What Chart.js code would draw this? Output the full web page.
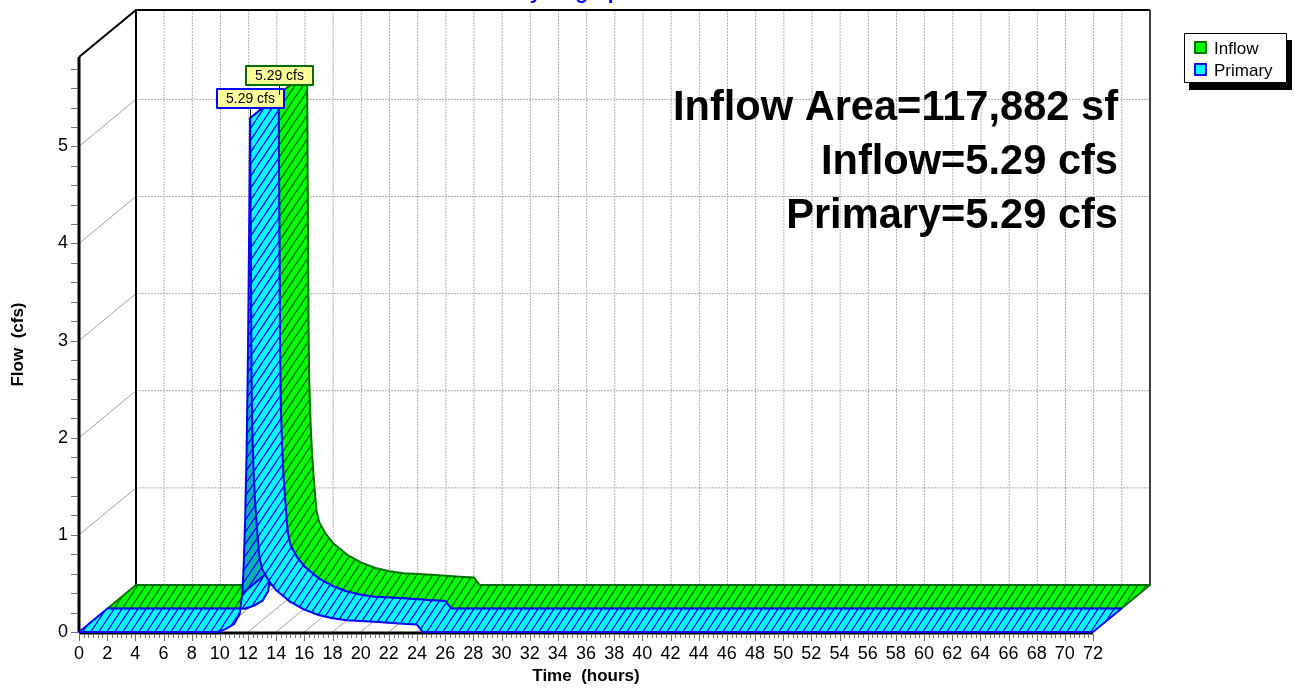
<!DOCTYPE html>
<html>
<head>
<meta charset="utf-8">
<script src="https://cdn.jsdelivr.net/npm/chart.js@4.4.0/dist/chart.umd.min.js"></script>
<style>
  html, body { margin: 0; padding: 0; background: #fff; overflow: hidden; }
  canvas { display: block; }
</style>
</head>
<body>
<canvas id="myChart" width="1294" height="688"></canvas>
<script>
// hydrograph values (hours / cfs)
const timeHours = [0, 9.8, 10.4, 11.0, 11.4, 11.6, 11.7, 11.8, 11.9, 12.0, 12.1, 12.15, 12.2, 12.25, 12.3, 12.4, 12.5, 12.65, 12.8, 13.0,
    13.5, 14.0, 14.5, 15.0, 16.0, 17.0, 18.0, 19.0, 20.0, 21.0, 22.0, 23.0, 24.0, 24.4, 72]
const inflowCfs = [0, 0, 0.03, 0.08, 0.18, 0.40, 0.70, 1.18, 1.85, 2.90, 4.40, 5.29, 4.00, 2.70, 2.10, 1.65, 1.35, 1.05, 0.78, 0.65,
    0.52, 0.43, 0.37, 0.31, 0.23, 0.175, 0.142, 0.122, 0.113, 0.105, 0.094, 0.085, 0.076, 0, 0]
const primaryCfs = [0, 0, 0.03, 0.08, 0.18, 0.40, 0.70, 1.18, 1.85, 2.90, 4.40, 5.29, 4.00, 2.70, 2.10, 1.65, 1.35, 1.05, 0.78, 0.65,
    0.52, 0.43, 0.37, 0.31, 0.23, 0.175, 0.142, 0.122, 0.113, 0.105, 0.094, 0.085, 0.076, 0, 0]

const timeTicks = [0, 2, 4, 6, 8, 10, 12, 14, 16, 18, 20, 22, 24, 26, 28, 30, 32, 34, 36, 38, 40, 42, 44, 46, 48, 50,
    52, 54, 56, 58, 60, 62, 64, 66, 68, 70, 72]
const flowTicks = [0, 1, 2, 3, 4, 5]
const inflowArea = '117,882 sf'

const FONT = '"Liberation Sans", Arial, sans-serif'
const DEPTH_X = 57
const DEPTH_Y = -47

const makeHatch = (ctx, color) => {
    const c = document.createElement('canvas')
    c.width = 16
    c.height = 24
    const g = c.getContext('2d')
    g.strokeStyle = color
    g.lineWidth = 1.3
    for (let x = -16; x <= 16; x += 8) {
        g.beginPath()
        g.moveTo(x, 24)
        g.lineTo(x + 16, 0)
        g.stroke()
    }
    return ctx.createPattern(c, 'repeat')
}

const line = (ctx, x1, y1, x2, y2) => {
    ctx.beginPath()
    ctx.moveTo(x1, y1)
    ctx.lineTo(x2, y2)
    ctx.stroke()
}

// one series drawn as a ribbon running from offset (ox, oy) back by half the depth;
// steep rising stretches show their underside in a darker shade
const drawRibbon = (ctx, pts, ox, oy, look) => {
    const bx = DEPTH_X / 2, by = DEPTH_Y / 2
    const front = pts.map(p => [p[0] + ox, p[1] + oy])
    const back = front.map(p => [p[0] + bx, p[1] + by])
    const runs = []
    for (let i = 0; i < front.length - 1; i++) {
        const dx = front[i + 1][0] - front[i][0]
        const dy = front[i + 1][1] - front[i][1]
        const under = dx * by - dy * bx > 0 && -dy > 10 * Math.max(dx, 0.1)
        const last = runs[runs.length - 1]
        if (last && last.under === under) last.end = i + 1
        else runs.push({ start: i, end: i + 1, under })
    }
    runs.forEach(r => {
        ctx.beginPath()
        for (let i = r.start; i <= r.end; i++) ctx.lineTo(front[i][0], front[i][1])
        for (let i = r.end; i >= r.start; i--) ctx.lineTo(back[i][0], back[i][1])
        ctx.closePath()
        ctx.fillStyle = r.under ? look.under : look.fill
        ctx.fill()
        ctx.fillStyle = look.hatch
        ctx.fill()
        ctx.strokeStyle = look.edge
        ctx.lineWidth = 2
        ctx.lineJoin = 'round'
        ctx.stroke()
    })
}

const hydro3d = {
    id: 'hydro3d',
    afterDatasetsDraw(chart) {
        const ctx = chart.ctx
        const xs = chart.scales.x
        const ys = chart.scales.y
        const a = chart.chartArea
        ctx.save()

        // back wall grid
        ctx.lineWidth = 1
        ctx.strokeStyle = '#b0b0b0'
        ctx.setLineDash([2, 1])
        timeTicks.slice(1, -1).forEach(t => {
            const x = xs.getPixelForValue(t) + DEPTH_X
            line(ctx, x, a.top + DEPTH_Y, x, a.bottom + DEPTH_Y)
        })
        flowTicks.slice(1).forEach(v => {
            const y = ys.getPixelForValue(v) + DEPTH_Y
            line(ctx, a.left + DEPTH_X, y, a.right + DEPTH_X, y)
        })
        ctx.setLineDash([])

        // side wall and floor diagonals
        ctx.strokeStyle = '#a0a0a0'
        flowTicks.slice(1).forEach(v => {
            const y = ys.getPixelForValue(v)
            line(ctx, a.left, y, a.left + DEPTH_X, y + DEPTH_Y)
        })
        timeTicks.slice(1, -1).forEach(t => {
            const x = xs.getPixelForValue(t)
            line(ctx, x, a.bottom, x + DEPTH_X, a.bottom + DEPTH_Y)
        })

        // frame
        ctx.strokeStyle = '#000'
        ctx.lineWidth = 2
        line(ctx, a.left, a.top, a.left + DEPTH_X, a.top + DEPTH_Y)
        line(ctx, a.left + DEPTH_X, a.top + DEPTH_Y, a.left + DEPTH_X, a.bottom + DEPTH_Y)
        line(ctx, a.left + DEPTH_X - 1, a.top + DEPTH_Y, a.right + DEPTH_X, a.top + DEPTH_Y)
        ctx.strokeStyle = '#404040'
        line(ctx, a.right + DEPTH_X, a.top + DEPTH_Y, a.right + DEPTH_X, a.bottom + DEPTH_Y)
        ctx.strokeStyle = '#000'
        ctx.lineWidth = 3
        line(ctx, a.left, a.bottom + 1, a.right, a.bottom + 1)
        line(ctx, a.left, a.bottom + 1, a.left, a.top)

        // tick marks
        ctx.strokeStyle = '#707070'
        ctx.lineWidth = 1
        for (let k = 0; k <= 29; k++) {
            const y = Math.round(ys.getPixelForValue(k * 0.2)) + 0.5
            line(ctx, a.left - 8, y, a.left - 1, y)
        }
        for (let k = 0; k <= 216; k++) {
            const x = Math.round(xs.getPixelForValue(k / 3)) + 0.5
            line(ctx, x, a.bottom + 2, x, a.bottom + (k % 6 === 0 ? 9 : 6))
        }

        // ribbons, back series first
        const looks = [
            { fill: '#00ff00', under: '#00b000', edge: '#007000', hatch: makeHatch(ctx, '#006a00') },
            { fill: '#00ffff', under: '#00b4b4', edge: '#0000ff', hatch: makeHatch(ctx, '#0000ff') }
        ]
        const depthOf = [1, 0]
        const pts = [0, 1].map(i => chart.getDatasetMeta(i).data.map(p => [p.x, p.y]))
        ;[0, 1].forEach(i => {
            const k = depthOf[i]
            drawRibbon(ctx, pts[i], k * DEPTH_X / 2, k * DEPTH_Y / 2, looks[i])
        })

        // peak value tags
        ctx.font = `14px ${FONT}`
        ctx.textAlign = 'center'
        ctx.textBaseline = 'middle'
        ;[1, 0].forEach(i => {
            const data = chart.data.datasets[i].data
            let top = 0
            data.forEach((d, j) => { if (d.y > data[top].y) top = j })
            const k = depthOf[i]
            const px = pts[i][top][0] + k * DEPTH_X / 2
            const py = pts[i][top][1] + k * DEPTH_Y / 2
            ctx.strokeStyle = '#000'
            ctx.lineWidth = 1
            line(ctx, Math.round(px) + 0.5, py - 10, Math.round(px) + 0.5, py)
            const bx = Math.round(px) - 33, by = Math.round(py) - 29
            ctx.fillStyle = '#ffff99'
            ctx.fillRect(bx, by, 67, 19)
            ctx.strokeStyle = looks[i].edge
            ctx.lineWidth = 2
            ctx.strokeRect(bx, by, 67, 19)
            ctx.fillStyle = '#000'
            ctx.fillText(`${data[top].y.toFixed(2)} cfs`, bx + 33.5, by + 10)
        })

        // summary block
        const peakIn = Math.max(...inflowCfs).toFixed(2)
        const peakOut = Math.max(...primaryCfs).toFixed(2)
        const summary = [`Inflow Area=${inflowArea}`, `Inflow=${peakIn} cfs`, `Primary=${peakOut} cfs`]
        ctx.font = `bold 41.6px ${FONT}`
        ctx.textAlign = 'right'
        ctx.textBaseline = 'alphabetic'
        ctx.fillStyle = '#000'
        summary.forEach((s, i) => ctx.fillText(s, 1118, 120 + i * 54))

        // legend
        ctx.fillStyle = '#000'
        ctx.fillRect(1189, 40, 103, 50)
        ctx.fillStyle = '#fff'
        ctx.fillRect(1184, 33, 103, 50)
        ctx.strokeStyle = '#000'
        ctx.lineWidth = 1
        ctx.strokeRect(1184.5, 33.5, 102, 49)
        ctx.font = `17px ${FONT}`
        ctx.textAlign = 'left'
        ctx.textBaseline = 'middle'
        chart.data.datasets.forEach((ds, i) => {
            const y = 48 + i * 22
            ctx.fillStyle = ds.backgroundColor
            ctx.fillRect(1195, y - 6, 11, 11)
            ctx.strokeStyle = ds.borderColor
            ctx.lineWidth = 2
            ctx.strokeRect(1195, y - 6, 11, 11)
            ctx.fillStyle = '#000'
            ctx.fillText(ds.label, 1214, y + 1)
        })

        // title, mostly above the page edge
        ctx.font = `bold 21px ${FONT}`
        ctx.textAlign = 'center'
        ctx.textBaseline = 'alphabetic'
        ctx.fillStyle = '#0000ff'
        ctx.fillText('Hydrograph', 574, -1)

        ctx.restore()
    }
}

const ctx = document.getElementById('myChart').getContext('2d')
const chart = new Chart(ctx, {
    type: 'line',
    data: {
        datasets: [
            {
                label: 'Inflow',
                data: timeHours.map((t, i) => ({ x: t, y: inflowCfs[i] })),
                backgroundColor: '#00ff00',
                borderColor: '#007000',
                showLine: false,
                pointRadius: 0
            },
            {
                label: 'Primary',
                data: timeHours.map((t, i) => ({ x: t, y: primaryCfs[i] })),
                backgroundColor: '#00ffff',
                borderColor: '#0000ff',
                showLine: false,
                pointRadius: 0
            }
        ]
    },
    options: {
        responsive: false,
        animation: false,
        layout: { padding: { top: 57, right: 201, bottom: 0, left: 0 } },
        plugins: { legend: { display: false }, tooltip: { enabled: false } },
        scales: {
            x: {
                type: 'linear',
                min: 0,
                max: 72,
                afterFit: s => { s.height = 56 },
                afterBuildTicks: s => { s.ticks = timeTicks.map(v => ({ value: v })) },
                grid: { display: false, drawTicks: false },
                border: { display: false },
                ticks: { autoSkip: false, maxRotation: 0, padding: 11, color: '#000', font: { family: FONT, size: 18 } },
                title: {
                    display: true, text: 'Time  (hours)', color: '#000',
                    font: { family: FONT, size: 17, weight: 'bold' }, padding: { top: 0, bottom: 1 }
                }
            },
            y: {
                type: 'linear',
                min: 0,
                max: 5.92,
                afterFit: s => { s.width = 79 },
                afterBuildTicks: s => { s.ticks = flowTicks.map(v => ({ value: v })) },
                grid: { display: false, drawTicks: false },
                border: { display: false },
                ticks: { padding: 11, color: '#000', font: { family: FONT, size: 18 } },
                title: {
                    display: true, text: 'Flow  (cfs)', color: '#000',
                    font: { family: FONT, size: 17, weight: 'bold' }, padding: { top: 8, bottom: 0 }
                }
            }
        }
    },
    plugins: [hydro3d]
})
</script>
</body>
</html>
